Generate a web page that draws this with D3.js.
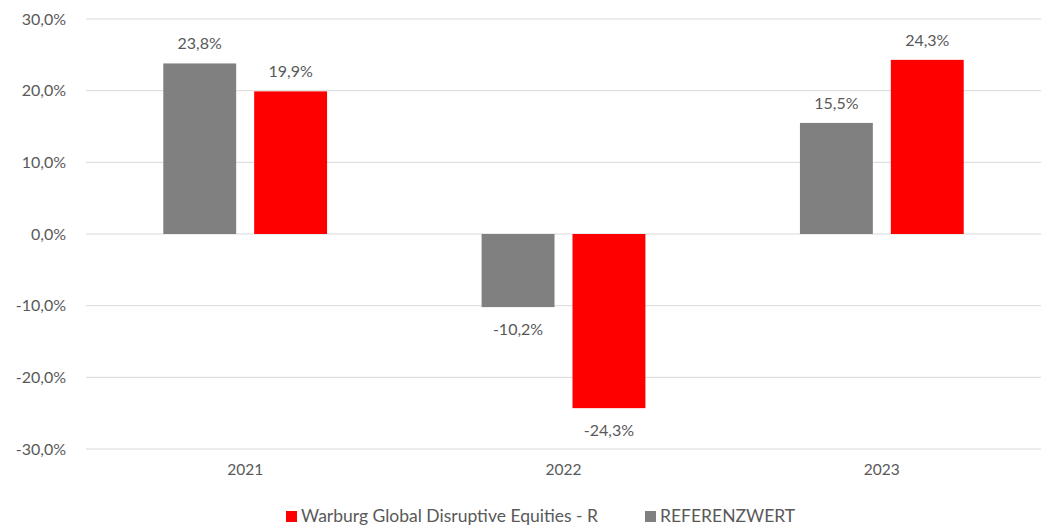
<!DOCTYPE html>
<html>
<head>
<meta charset="utf-8">
<script src="https://cdn.jsdelivr.net/npm/d3@7"></script>
<style>
    body { margin: 0; background: #fff; }
    text { font-family: Lato, "Open Sans", sans-serif; fill: #595959; }
</style>
</head>
<body>
<svg id="chart" width="1047" height="526"></svg>
<script>
const YEARS = ["2021", "2022", "2023"];
const FUND_VALUES = [19.9, -24.3, 24.3];
const BENCHMARK_VALUES = [23.8, -10.2, 15.5];
const Y_TICKS = [-30, -20, -10, 0, 10, 20, 30];
const SERIES_NAMES = ["Warburg Global Disruptive Equities - R", "REFERENZWERT"];

const GRAY = "#808080";
const RED = "#ff0000";

const svg = d3.select("#chart");
let paddings = { top: 19, right: 6, bottom: 77, left: 86 };
let svgWidth = +svg.attr("width");
let svgHeight = +svg.attr("height");
let chartWidth = svgWidth - paddings.left - paddings.right;
let chartHeight = svgHeight - paddings.top - paddings.bottom;

const chart = svg.append("g")
    .attr("transform", "translate(" + paddings.left + "," + paddings.top + ")");

const xScale = d3.scaleBand().domain(YEARS).range([0, chartWidth]);
const yScale = d3.scaleLinear().domain([-30, 30]).range([chartHeight, 0]);

// german style: comma decimals, plain hyphen for minus
const fmt = (v) => (v < 0 ? "-" : "") + Math.abs(v).toFixed(1).replace(".", ",") + "%";

// gridlines
chart.append("g")
    .selectAll("line")
    .data(Y_TICKS)
    .enter()
    .append("line")
    .attr("x1", 0)
    .attr("x2", chartWidth)
    .attr("y1", (d) => yScale(d))
    .attr("y2", (d) => yScale(d))
    .attr("stroke", "#d9d9d9")
    .attr("stroke-width", 1);

// y axis
const yAxis = d3.axisLeft(yScale).tickValues(Y_TICKS).tickSize(0).tickPadding(20).tickFormat(fmt);
chart.append("g").attr("class", "yAxis").call(yAxis)
    .call((g) => g.select(".domain").remove())
    .selectAll("text")
    .style("font-size", "16px");

// x axis
const xAxis = d3.axisBottom(xScale).tickSize(0).tickPadding(15);
chart.append("g").attr("class", "xAxis")
    .attr("transform", `translate(0, ${chartHeight})`)
    .call(xAxis)
    .call((g) => g.select(".domain").remove())
    .selectAll("text")
    .style("font-size", "15.5px");

// bars
const barW = xScale.bandwidth() * 0.229;
const gap = 18;
const series = [
    { name: SERIES_NAMES[1], values: BENCHMARK_VALUES, color: GRAY, offset: -(gap / 2 + barW) },
    { name: SERIES_NAMES[0], values: FUND_VALUES, color: RED, offset: gap / 2 },
];

series.forEach((s) => {
    const rows = YEARS.map((y, i) => ({ year: y, value: s.values[i] }));
    const cx = (d) => xScale(d.year) + xScale.bandwidth() / 2 + s.offset;
    chart.append("g")
        .selectAll("rect")
        .data(rows)
        .enter()
        .append("rect")
        .attr("x", cx)
        .attr("width", barW)
        .attr("y", (d) => yScale(Math.max(0, d.value)))
        .attr("height", (d) => Math.abs(yScale(d.value) - yScale(0)))
        .attr("fill", s.color);

    chart.append("g")
        .selectAll("text")
        .data(rows)
        .enter()
        .append("text")
        .attr("x", (d) => cx(d) + barW / 2)
        .attr("y", (d) => d.value >= 0 ? yScale(d.value) - 14 : yScale(d.value) + 28)
        .attr("text-anchor", "middle")
        .style("font-size", "16px")
        .text((d) => fmt(d.value));
});

// legend
const legendItems = [
    { name: SERIES_NAMES[0], color: RED, x: 286 },
    { name: SERIES_NAMES[1], color: GRAY, x: 645 },
];
const legend = svg.append("g").attr("transform", "translate(0, 517)");
legendItems.forEach((d) => {
    legend.append("rect")
        .attr("x", d.x)
        .attr("y", -6)
        .attr("width", 11)
        .attr("height", 11)
        .attr("fill", d.color);
    legend.append("text")
        .attr("x", d.x + 15)
        .attr("y", 5)
        .style("font-size", "17.5px")
        .text(d.name);
});
</script>
</body>
</html>
